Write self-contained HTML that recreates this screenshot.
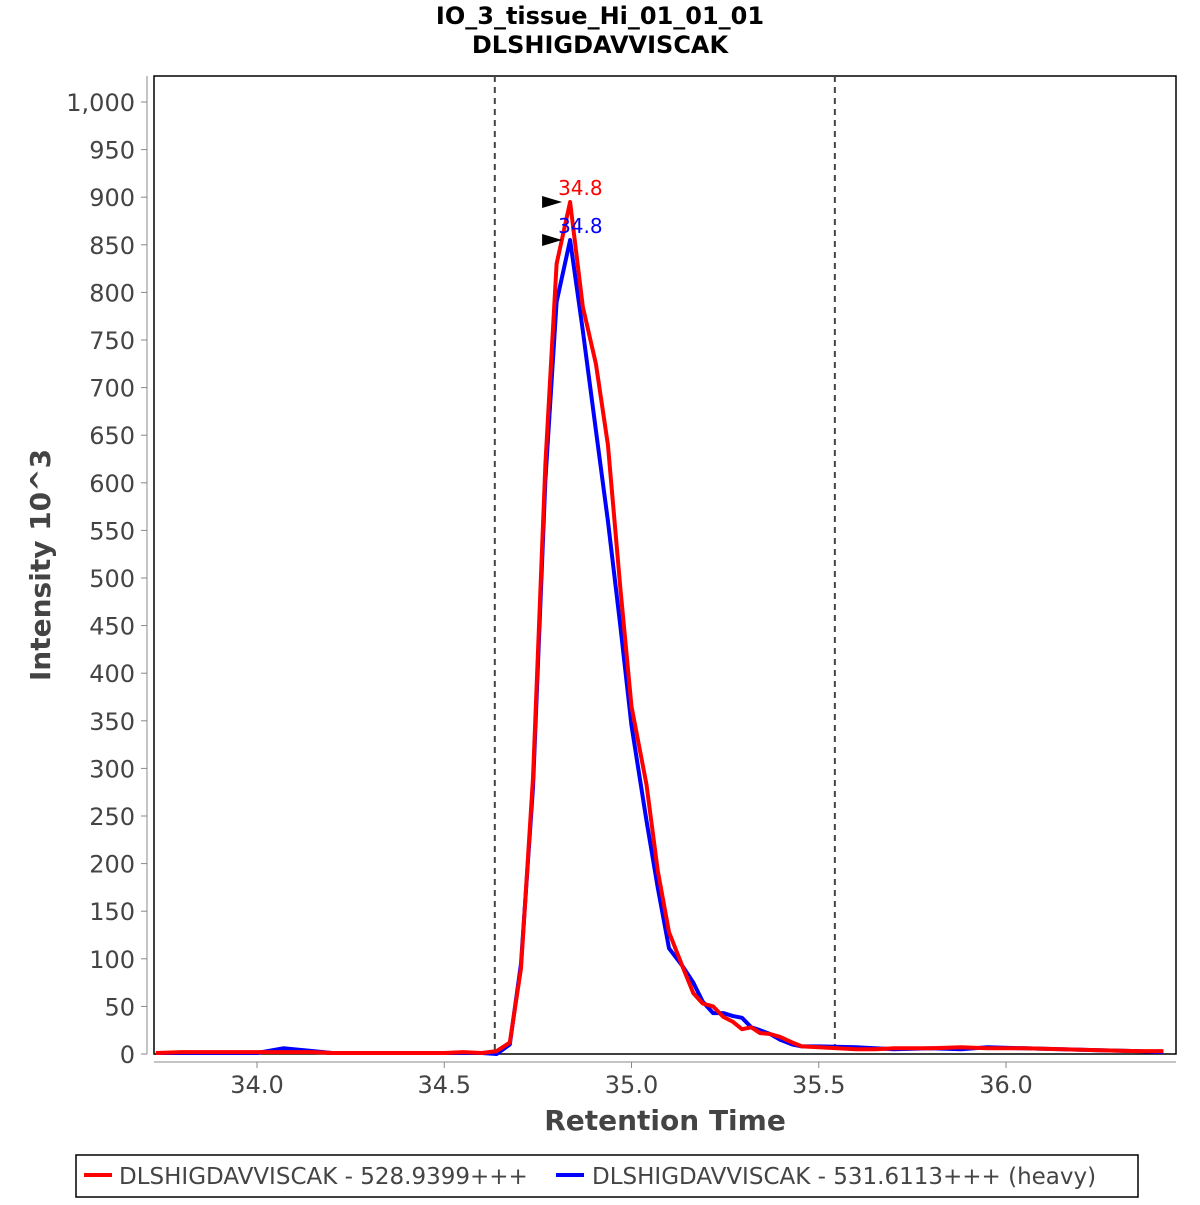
<!DOCTYPE html>
<html><head><meta charset="utf-8"><style>
body{margin:0;background:#fff;font-family:"Liberation Sans","DejaVu Sans",sans-serif}
svg text{font-family:"DejaVu Sans","Liberation Sans",sans-serif}
</style></head><body>
<svg id="chart" width="1200" height="1200" xmlns="http://www.w3.org/2000/svg">
<rect width="1200" height="1200" fill="#fff"/>
<text x="600" y="24" text-anchor="middle" font-size="24" font-weight="bold">IO_3_tissue_Hi_01_01_01</text>
<text x="600" y="53" text-anchor="middle" font-size="24" font-weight="bold">DLSHIGDAVVISCAK</text>
<rect x="154" y="76" width="1022" height="978" fill="none" stroke="#000" stroke-width="1.5"/>
<line x1="147" y1="76" x2="147" y2="1054" stroke="#888"/>
<line x1="154" y1="1062" x2="1176" y2="1062" stroke="#888"/>
<g id="yticks"></g><g id="xticks"></g><g id="marks"></g>
<text transform="translate(50,565) rotate(-90)" text-anchor="middle" font-size="28" font-weight="bold" fill="#444">Intensity 10^3</text>
<text x="665" y="1130" text-anchor="middle" font-size="28" font-weight="bold" fill="#444">Retention Time</text>
<g>
<rect x="76" y="1155" width="1062" height="42" fill="#fff" stroke="#000" stroke-width="1.5"/>
<g><line x1="84" y1="1175" x2="112" y2="1175" stroke="#f00" stroke-width="4"/><text x="119" y="1184" font-size="23" fill="#444">DLSHIGDAVVISCAK - 528.9399+++</text></g>
<g><line x1="556" y1="1175" x2="584" y2="1175" stroke="#00f" stroke-width="4"/><text x="592" y="1184" font-size="23" fill="#444">DLSHIGDAVVISCAK - 531.6113+++ (heavy)</text></g>
</g>
</svg>
<script>
const times=[33.73,33.8,33.9,34.0,34.07,34.15,34.2,34.3,34.4,34.5,34.55,34.6,34.64,34.675,34.705,34.737,34.77,34.80,34.836,34.87,34.905,34.937,34.97,35.0,35.04,35.07,35.10,35.135,35.165,35.19,35.218,35.245,35.27,35.295,35.32,35.343,35.37,35.397,35.43,35.455,35.5,35.6,35.65,35.7,35.8,35.88,35.95,36.05,36.15,36.25,36.35,36.42];
const lightValues=[1,2,2,2,2,2,1,1,1,1,2,1,3,12,90,290,620,830,895,785,725,640,490,365,283,193,128,93,64,53,50,39,34,26,28,22,21,18,12,8,7,5,5,6,6,7,6,6,5,4,3,3];
const heavyValues=[1,1,1,1,6,3,1,1,1,1,1,1,0,10,95,280,603,790,855,760,655,560,450,345,245,175,111,93,75,55,43,43,40,38,28,25,21,15,10,8,8,7,6,5,6,5,7,6,5,4,3,2];
const yTicks=[0,50,100,150,200,250,300,350,400,450,500,550,600,650,700,750,800,850,900,950,1000];
const yTickLabels=["0","50","100","150","200","250","300","350","400","450","500","550","600","650","700","750","800","850","900","950","1,000"];
const xTicks=[34.0,34.5,35.0,35.5,36.0];
const xTickLabels=["34.0","34.5","35.0","35.5","36.0"];
const boundaries=[34.635,35.543];
const peakTimes=[34.836,34.836];
const peakValues=[895,855];
const peakLabels=["34.8","34.8"];
const NS="http://www.w3.org/2000/svg";
const X=t=>257+(t-34)*374.5;
const Y=v=>1054-v*0.952;
function mk(tag,attrs,parent){const e=document.createElementNS(NS,tag);for(const k in attrs)e.setAttribute(k,attrs[k]);parent.appendChild(e);return e;}
const yg=document.getElementById('yticks'),xg=document.getElementById('xticks'),mg=document.getElementById('marks');
yTicks.forEach((v,i)=>{
 const l=mk('line',{x1:141,x2:147,y1:Y(v),y2:Y(v),stroke:'#888'},yg);
 
 
 const t=mk('text',{x:135,y:Y(v)+9,'text-anchor':'end','font-size':24,fill:'#444'},yg);
 t.textContent=yTickLabels[i];
 
 
});
xTicks.forEach((v,i)=>{
 const l=mk('line',{x1:X(v),x2:X(v),y1:1062,y2:1068,stroke:'#888'},xg);
 
 
 const t=mk('text',{x:X(v),y:1093,'text-anchor':'middle','font-size':24,fill:'#444'},xg);
 t.textContent=xTickLabels[i];
 
 
});
boundaries.forEach(b=>{
 const l=mk('line',{x1:X(b),x2:X(b),y1:76,y2:1054,stroke:'#444','stroke-width':2,'stroke-dasharray':'6,5'},mg);
 
 
});
function series(vals,color,name){
 const d=vals.map((v,i)=>(i?'L':'M')+X(times[i]).toFixed(1)+','+Y(v).toFixed(1)).join('');
 const p=mk('path',{d:d,fill:'none',stroke:color,'stroke-width':4,'stroke-linejoin':'round'},mg);
 
 
}
series(heavyValues,'#00f','heavy-series-line');
series(lightValues,'#f00','light-series-line');
const colors=['#f00','#00f'];
peakTimes.forEach((t,i)=>{
 const px=X(t),py=Y(peakValues[i]);
 const a=mk('polygon',{points:`${px-28},${py-6} ${px-8},${py} ${px-28},${py+6}`,fill:'#000'},mg);
 
 
 const tx=mk('text',{x:px-12,y:py-7,'font-size':20,fill:colors[i]},mg);
 tx.textContent=peakLabels[i];
 
 
});
</script>
</body></html>
